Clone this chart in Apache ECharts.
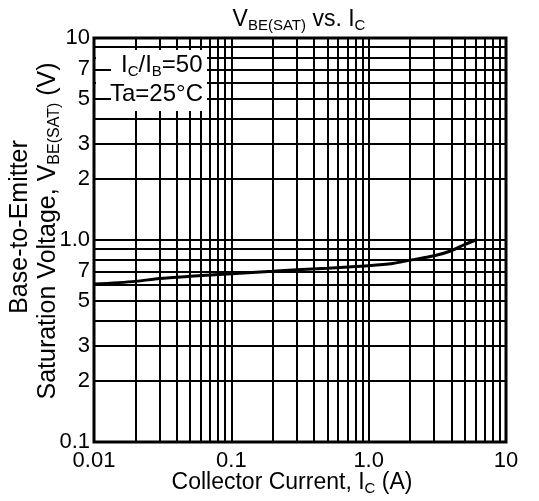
<!DOCTYPE html>
<html><head><meta charset="utf-8">
<script src="https://cdn.jsdelivr.net/npm/echarts@6/dist/echarts.min.js"></script>
<style>html,body{margin:0;padding:0;background:#fff}#c{width:539px;height:501px}</style>
</head><body><div id="c"></div>
<script>
const currentA = [0.01, 0.02, 0.03, 0.05, 0.1, 0.2, 0.3, 0.5, 1.0, 1.5, 2, 3, 4, 5, 6];
const vbeSat   = [0.605, 0.624, 0.645, 0.661, 0.68, 0.70, 0.713, 0.725, 0.746, 0.765, 0.795, 0.836, 0.885, 0.95, 1.0];

const xGridValues = [0.01,0.02,0.03,0.04,0.05,0.06,0.07,0.08,0.09,
                     0.1,0.2,0.3,0.4,0.5,0.6,0.7,0.8,0.9,
                     1,2,3,4,5,6,7,8,9,10];
const yGridValues = [0.1,0.2,0.3,0.4,0.5,0.6,0.7,0.8,0.9,
                     1,2,3,4,5,6,7,8,9,10];
const xLabelValues = [0.01, 0.1, 1, 10];
const xLabelTexts  = ['0.01', '0.1', '1.0', '10'];
const yLabelValues = [0.1, 0.2, 0.3, 0.5, 0.7, 1, 2, 3, 5, 7, 10];
const yLabelTexts  = ['0.1', '2', '3', '5', '7', '1.0', '2', '3', '5', '7', '10'];
const yStubValues  = [5, 7];

const FONT = 'Liberation Sans, Arial, sans-serif';
function lookup(vals, texts, v) {
  for (let i = 0; i < vals.length; i++) if (Math.abs(vals[i] - v) / vals[i] < 1e-6) return texts[i];
  return '';
}
function richSet(size, sub) {
  return {
    m: { fontFamily: FONT, fontSize: size, color: '#000', lineHeight: Math.round(size * 1.18) },
    s: { fontFamily: FONT, fontSize: sub, color: '#000', lineHeight: sub, verticalAlign: 'bottom' }
  };
}
const gridLine = { show: true, lineStyle: { color: '#000', width: 2 } };

const chart = echarts.init(document.getElementById('c'), null, { renderer: 'canvas' });
chart.setOption({
  animation: false,
  backgroundColor: '#fff',
  grid: { left: 94, right: 33, top: 38, bottom: 59, show: true, borderColor: '#000', borderWidth: 3, backgroundColor: 'transparent' },
  xAxis: [{
    type: 'log', logBase: 10, min: 0.01, max: 10,
    axisLine: { show: false },
    axisTick: { show: false, customValues: xGridValues },
    splitLine: gridLine,
    axisLabel: {
      customValues: xLabelValues, margin: 8,
      fontFamily: FONT, fontSize: 22, color: '#000',
      formatter: v => lookup(xLabelValues, xLabelTexts, v)
    }
  }],
  yAxis: [{
    type: 'log', logBase: 10, min: 0.1, max: 10,
    axisLine: { show: false },
    axisTick: { show: false, customValues: yGridValues },
    splitLine: gridLine,
    axisLabel: { show: false }
  }, {
    type: 'log', logBase: 10, min: 0.1, max: 10, position: 'left', z: 20,
    axisLine: { show: false },
    splitLine: { show: false },
    axisTick: { show: true, inside: true, length: 17, customValues: yStubValues, lineStyle: { color: '#000', width: 2 } },
    axisLabel: {
      customValues: yLabelValues, margin: 4,
      fontFamily: FONT, fontSize: 22, color: '#000',
      formatter: v => lookup(yLabelValues, yLabelTexts, v)
    }
  }],
  series: [{
    type: 'line', xAxisIndex: 0, yAxisIndex: 0, z: 3,
    data: currentA.map((x, i) => [x, vbeSat[i]]),
    smooth: 0.3, symbol: 'none',
    lineStyle: { color: '#000', width: 3 }
  }],
  graphic: [
    { type: 'rect', z: 10, shape: { x: 96, y: 50, width: 111, height: 61 }, style: { fill: '#fff' } },
    { type: 'text', z: 11, x: 121, y: 65, style: { text: '{m|I}{s|C}{m|/I}{s|B}{m|=50}', rich: richSet(24, 15), align: 'left', verticalAlign: 'middle' } },
    { type: 'text', z: 11, x: 110, y: 94, style: { text: '{m|Ta=25°C}', rich: richSet(24, 15), align: 'left', verticalAlign: 'middle' } },
    { type: 'text', z: 11, x: 299, y: 20, style: { text: '{m|V}{s|BE(SAT)}{m| vs. I}{s|C}', rich: richSet(23, 15), align: 'center', verticalAlign: 'middle' } },
    { type: 'text', z: 11, x: 292, y: 483, style: { text: '{m|Collector Current, I}{s|C}{m| (A)}', rich: richSet(23, 15), align: 'center', verticalAlign: 'middle' } },
    { type: 'text', z: 11, x: 20, y: 227, rotation: Math.PI / 2, style: { text: '{m|Base-to-Emitter}', rich: richSet(25, 16), align: 'center', verticalAlign: 'middle' } },
    { type: 'text', z: 11, x: 48, y: 231, rotation: Math.PI / 2, style: { text: '{m|Saturation Voltage, V}{s|BE(SAT)}{m| (V)}', rich: richSet(25, 16), align: 'center', verticalAlign: 'middle' } }
  ]
});
</script>
</body></html>
